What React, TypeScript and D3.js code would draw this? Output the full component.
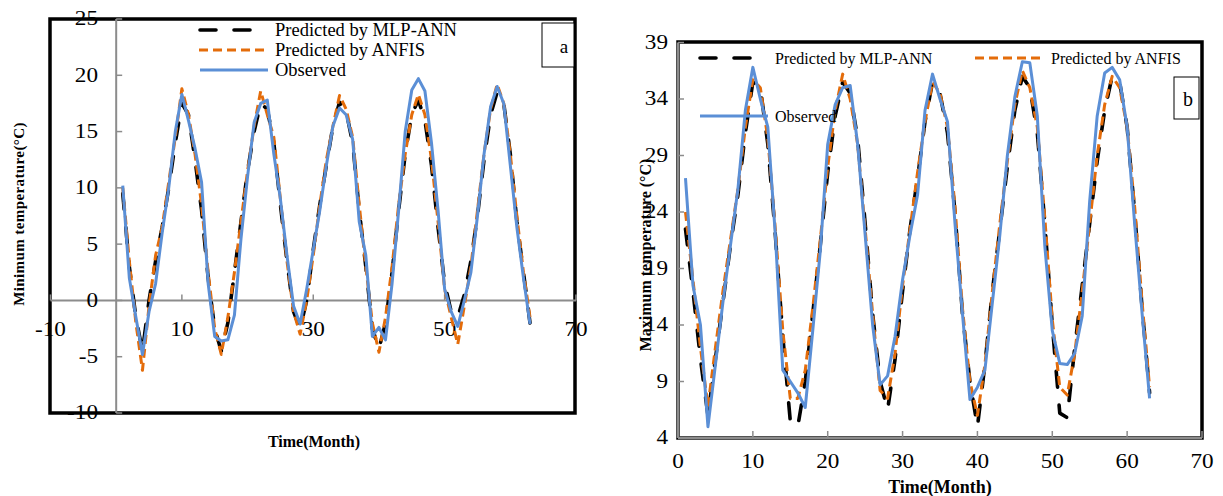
import React from 'react';
import * as d3 from 'd3';

// months 1..63 on the time axis
const months = d3.range(1, 64);

// panel a : minimum temperature
const minObserved = [
  10.2, 2, -1.5, -4.8, -1, 1.5, 6, 10, 15, 18.3, 16, 13.5, 10.5, 1.5, -3.2, -3.6, -3.5, -1.3, 5.5, 11,
  15.8, 17.5, 17.8, 13, 9, 4, -0.5, -2.1, 1, 4.5, 8, 12, 15.5, 17.1, 16.5, 14.3, 7, 4, -3.2, -2.4,
  -3.5, 1.5, 8, 15, 18.7, 19.7, 18.6, 14, 8, 1, -1, -2.3, 0, 2.5, 7.5, 13, 17.2, 19, 17.5, 12,
  6.5, 2, -2.1,
];
const minMLP = [
  9.5, 3, -1.5, -4.5, 0, 3.5, 6.5, 10, 14, 17.5, 16.5, 12.5, 8, 2, -2.5, -4.5, -2, 2.5, 7, 11.5,
  15, 17.5, 17, 14, 8.5, 3.5, -1, -2.5, 0, 4.5, 8.5, 12, 15.5, 17.6, 16.8, 14, 8, 3, -2.5, -4.3,
  -2, 2.5, 8, 13, 16.5, 17.8, 16, 12, 6.5, 1.5, -1, -1.5, 0.5, 3.5, 7.5, 12.5, 16.5, 18.5, 17.5, 13,
  7, 2.5, -2,
];
const minANFIS = [
  10, 3.5, -2, -6.2, -0.5, 4, 6.5, 10.5, 14.5, 18.8, 16.5, 13, 8.5, 2.5, -2.5, -4.8, -1.5, 2.5, 7, 11.5,
  15.5, 18.6, 16.5, 14.5, 9, 3.5, -1, -3, 0, 4, 8.5, 12.5, 15.5, 18.2, 17, 14.5, 8.5, 3, -2, -4.6,
  -1.5, 3, 8.5, 13, 16.5, 18.3, 16.5, 12.5, 7, 1, -1.5, -3.9, -0.5, 3, 8, 13, 17, 19.2, 17.5, 13,
  7.5, 2.5, -1.5,
];

// panel b : maximum temperature
const maxObserved = [
  27, 17.5, 14, 5, 10.5, 16, 21, 26, 33, 36.8, 34, 31.5, 22, 10, 9, 8, 6.7, 13.5, 20.5, 30,
  33.5, 35, 35.2, 30, 22, 14, 8.7, 9.5, 13, 18, 22, 25.5, 33, 36.2, 34, 32, 23, 15, 7.4, 8.5,
  10, 16, 22, 29, 34.2, 37.3, 37.2, 32.5, 21, 13.5, 10.6, 10.5, 11.5, 14.8, 25, 32.5, 36.3, 36.8, 35.7, 31.5,
  23, 15, 7.5,
];
const maxMLP = [
  22.5, 17, 11, 6, 11, 16, 21, 25.5, 31, 35.5, 35, 30, 22, 13, 5.5, 5, 9, 15, 21, 27.5,
  32.5, 35.5, 34.5, 30.5, 23, 15, 9, 6.5, 11, 17, 22.5, 27, 32, 35.5, 34.5, 31, 24, 15, 9, 5,
  10.5, 17, 22.5, 28, 33, 36, 35, 31, 23, 14, 6.2, 5.8, 12, 17.5, 23, 28.5, 33, 36, 35.5, 31.5,
  24, 15.5, 8,
];
const maxANFIS = [
  24, 18, 12, 6.8, 12, 17, 21.5, 26, 31.5, 35.7, 35, 30.5, 22.5, 13.5, 7.5, 7.5, 10, 15.5, 21.5, 28,
  33, 36.2, 34, 30, 22.5, 15, 8.2, 7.5, 11.5, 17.5, 22.5, 27.5, 32, 35.5, 34.5, 31.5, 24.5, 15.5, 9, 6,
  10.5, 17, 23, 28.5, 33.5, 36.5, 35, 31.5, 23.5, 14.5, 8.5, 7.8, 11.5, 17, 23, 29, 33.5, 36, 35, 31.5,
  24.5, 16, 8.5,
];

const aYTicks = [-10, -5, 0, 5, 10, 15, 20, 25];
const aXTicks = [-10, 10, 30, 50, 70];
const bYTicks = [4, 9, 14, 19, 24, 29, 34, 39];
const bXTicks = [0, 10, 20, 30, 40, 50, 60, 70];

const FONT = '"Liberation Serif", "Times New Roman", serif';
const BLUE = '#5b8fd6';
const ORANGE = '#e46c0a';
const GRAY = '#8c8c8c';
const BLACK_DASH = '16 18';
const ORANGE_DASH = '9 5';

type Scale = d3.ScaleLinear<number, number>;

// tick numbers in the picture are a little wider than tall
function Num({ x, y, anchor, children }: { x: number; y: number; anchor: string; children: React.ReactNode }) {
  return (
    <text
      transform={`translate(${x},${y}) scale(1.16,1)`}
      textAnchor={anchor}
      dominantBaseline="central"
      fontSize={20}
    >
      {children}
    </text>
  );
}

function seriesPaths(sx: Scale, sy: Scale, obs: number[], mlp: number[], anfis: number[]) {
  const gen = d3
    .line<number>()
    .x((_, i) => sx(months[i]))
    .y((d) => sy(d));
  return (
    <g fill="none" strokeLinejoin="round">
      <path d={gen(mlp) || ''} stroke="#000" strokeWidth={3.6} strokeDasharray={BLACK_DASH} strokeLinecap="round" />
      <path d={gen(anfis) || ''} stroke={ORANGE} strokeWidth={3} strokeDasharray={ORANGE_DASH} />
      <path d={gen(obs) || ''} stroke={BLUE} strokeWidth={3} />
    </g>
  );
}

export default function App() {
  // panel a scales
  const ax = d3.scaleLinear().domain([-10, 70]).range([50.5, 576]);
  const ay = d3.scaleLinear().domain([-10, 25]).range([413, 19]);
  // panel b scales
  const bx = d3.scaleLinear().domain([0, 70]).range([678, 1202]);
  const by = d3.scaleLinear().domain([4, 39]).range([438, 42.5]);

  return (
    <svg
      width={1223}
      height={496}
      style={{ position: 'absolute', left: 0, top: 0, background: '#fff' }}
      fontFamily={FONT}
    >
      <rect width={1223} height={496} fill="#fff" />

      {/* ---------- panel a ---------- */}
      <g>
        <rect x={50} y={19} width={525} height={394} fill="#fff" stroke="#000" strokeWidth={3.5} />
        {/* gray axes crossing at 0 */}
        <line x1={ax(0)} x2={ax(0)} y1={ay(25)} y2={ay(-10)} stroke={GRAY} strokeWidth={2} />
        <line x1={ax(-10)} x2={ax(70)} y1={ay(0)} y2={ay(0)} stroke={GRAY} strokeWidth={2} />
        {aYTicks.map((t) => (
          <g key={'ay' + t}>
            <line x1={ax(0)} x2={ax(0) + 6} y1={ay(t)} y2={ay(t)} stroke={GRAY} strokeWidth={1.5} />
            <Num x={98} y={ay(t)} anchor="end">{t}</Num>
          </g>
        ))}
        {aXTicks.map((t) => (
          <g key={'ax' + t}>
            <line x1={ax(t)} x2={ax(t)} y1={ay(0)} y2={ay(0) - 6} stroke={GRAY} strokeWidth={1.5} />
            <Num x={ax(t)} y={ay(0) + 29} anchor="middle">{t}</Num>
          </g>
        ))}
        {seriesPaths(ax, ay, minObserved, minMLP, minANFIS)}

        {/* legend */}
        <line x1={200} x2={253} y1={30} y2={30} stroke="#000" strokeWidth={3.6} strokeDasharray={BLACK_DASH} strokeLinecap="round" />
        <line x1={199} x2={269} y1={50} y2={50} stroke={ORANGE} strokeWidth={3} strokeDasharray={ORANGE_DASH} />
        <line x1={200} x2={268} y1={70} y2={70} stroke={BLUE} strokeWidth={3} />
        <g fontSize={18.5} dominantBaseline="central">
          <text x={275} y={30}>Predicted by MLP-ANN</text>
          <text x={275} y={50}>Predicted by ANFIS</text>
          <text x={275} y={70}>Observed</text>
        </g>

        <rect x={542} y={23} width={32} height={44} fill="#fff" stroke="#000" strokeWidth={1} />
        <text x={564} y={46} textAnchor="middle" dominantBaseline="central" fontSize={19}>
          a
        </text>

        <text
          transform="translate(19,214) rotate(-90)"
          textAnchor="middle"
          dominantBaseline="central"
          fontSize={15}
          fontWeight="bold"
          letterSpacing={0.4}
        >
          Minimum temperature(°C)
        </text>
        <text x={314} y={441} textAnchor="middle" dominantBaseline="central" fontSize={16} fontWeight="bold">
          Time(Month)
        </text>
      </g>

      {/* ---------- panel b ---------- */}
      <g>
        <rect x={678} y={42} width={524} height={396} fill="#fff" stroke="#000" strokeWidth={3.5} />
        <line x1={bx(0)} x2={bx(0)} y1={by(39)} y2={by(4)} stroke={GRAY} strokeWidth={2.5} />
        <line x1={bx(0)} x2={bx(70)} y1={by(4)} y2={by(4)} stroke={GRAY} strokeWidth={2.5} />
        {bYTicks.map((t) => (
          <g key={'by' + t}>
            <line x1={bx(0)} x2={bx(0) + 6} y1={by(t)} y2={by(t)} stroke={GRAY} strokeWidth={1.5} />
            <Num x={668} y={by(t)} anchor="end">{t}</Num>
          </g>
        ))}
        {bXTicks.map((t) => (
          <g key={'bx' + t}>
            <line x1={bx(t)} x2={bx(t)} y1={by(4)} y2={by(4) - 7} stroke={GRAY} strokeWidth={1.5} />
            <Num x={bx(t)} y={by(4) + 24} anchor="middle">{t}</Num>
          </g>
        ))}
        {seriesPaths(bx, by, maxObserved, maxMLP, maxANFIS)}

        {/* legend */}
        <line x1={700} x2={751} y1={58} y2={58} stroke="#000" strokeWidth={3.6} strokeDasharray={BLACK_DASH} strokeLinecap="round" />
        <line x1={975} x2={1043} y1={58} y2={58} stroke={ORANGE} strokeWidth={3} strokeDasharray={ORANGE_DASH} />
        <line x1={700} x2={768} y1={116} y2={116} stroke={BLUE} strokeWidth={3} />
        <g fontSize={16} dominantBaseline="central">
          <text x={775} y={58}>Predicted by MLP-ANN</text>
          <text x={1051} y={58}>Predicted by ANFIS</text>
          <text x={775} y={116}>Observed</text>
        </g>

        <rect x={1174} y={77} width={25} height={42} fill="#fff" stroke="#000" strokeWidth={1} />
        <text x={1188} y={99} textAnchor="middle" dominantBaseline="central" fontSize={20}>
          b
        </text>

        <text
          transform="translate(645,255) rotate(-90)"
          textAnchor="middle"
          dominantBaseline="central"
          fontSize={16}
          fontWeight="bold"
        >
          Maximum temperature (°C)
        </text>
        <text x={940} y={487} textAnchor="middle" dominantBaseline="central" fontSize={18} fontWeight="bold">
          Time(Month)
        </text>
      </g>
    </svg>
  );
}
